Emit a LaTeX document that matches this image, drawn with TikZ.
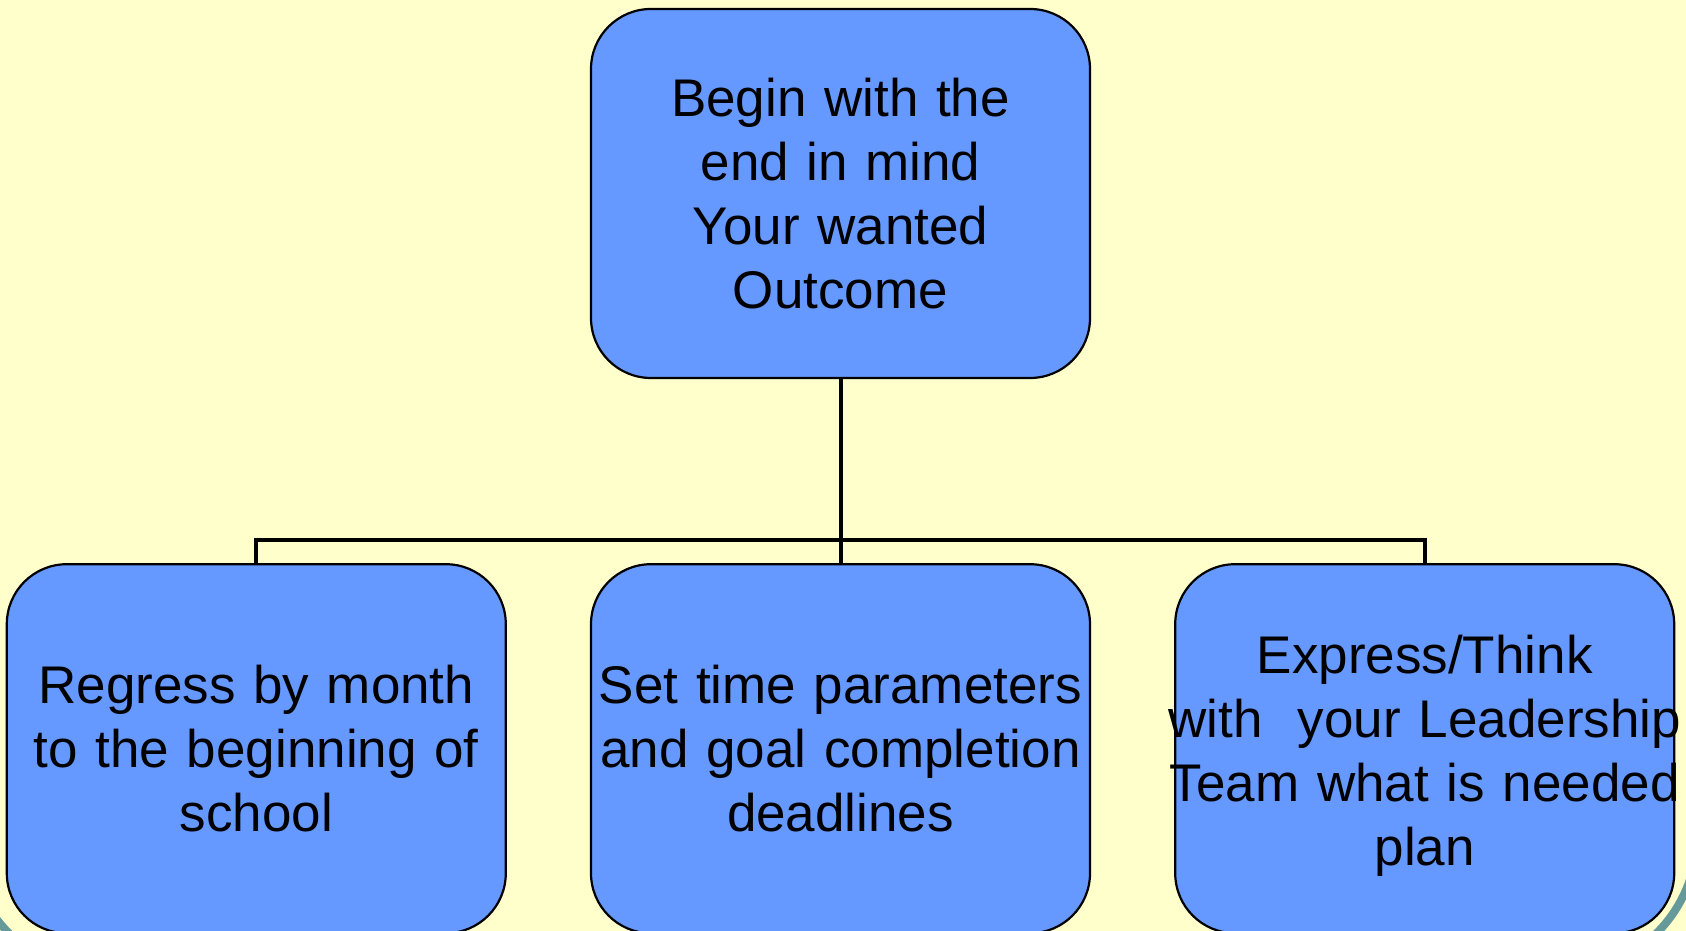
\documentclass[tikz,border=0pt]{standalone}
\usepackage{fontspec}
\setmainfont{Liberation Sans}
\usepackage{tikz}
\usetikzlibrary{positioning}
\definecolor{slidebg}{HTML}{FFFFCC}
\definecolor{boxblue}{HTML}{6699FF}
\definecolor{rimteal}{HTML}{669999}
\newcommand{\wideline}[1]{\makebox[\linewidth]{#1}}
\tikzstyle{box} = [rectangle, rounded corners = 60pt,
  minimum height = 369pt, text width = 499pt, inner sep = 0,
  draw = black, line width = 2.2pt, fill = boxblue, align = center,
  font = \fontsize{53}{64}\selectfont]
\tikzstyle{link} = [draw = black, line width = 4pt]

\begin{document}
\begin{tikzpicture}[x = 1pt, y = 1pt, node distance = 0]
      \useasboundingbox (0, 0) rectangle (1686, 931);
      \fill [slidebg] (0, 0) rectangle (1686, 931);
      \clip (0, 0) rectangle (1686, 931);
      % slide rim
      \draw [rimteal, line width = 8pt, rounded corners = 137pt]
      (-31.5, -42) rectangle (1697, 1200);
      % top
      \node [box] (box-top) at (840.5, 737.5)
      {Begin with the\\ end in mind\\Your wanted\\ Outcome};
      % row below
      \node [box, below = 184pt of box-top] (box-1)
      {Set time parameters\\and goal completion\\deadlines};
      \node [box, left = 83pt of box-1] (box-0)
      {Regress by month\\to the beginning of\\school};
      \node [box, right = 83pt of box-1] (box-2)
      {\rule{0pt}{53pt}\wideline{Express/Think}\\\wideline{with~ your Leadership}\\
        \wideline{Team what is needed}\\\wideline{plan}};

      \draw [link] (box-top) -- (box-1);
      \draw [link] (box-0.north) -- ++(0, 23) -| (box-2.north);
    \end{tikzpicture}
\end{document}
